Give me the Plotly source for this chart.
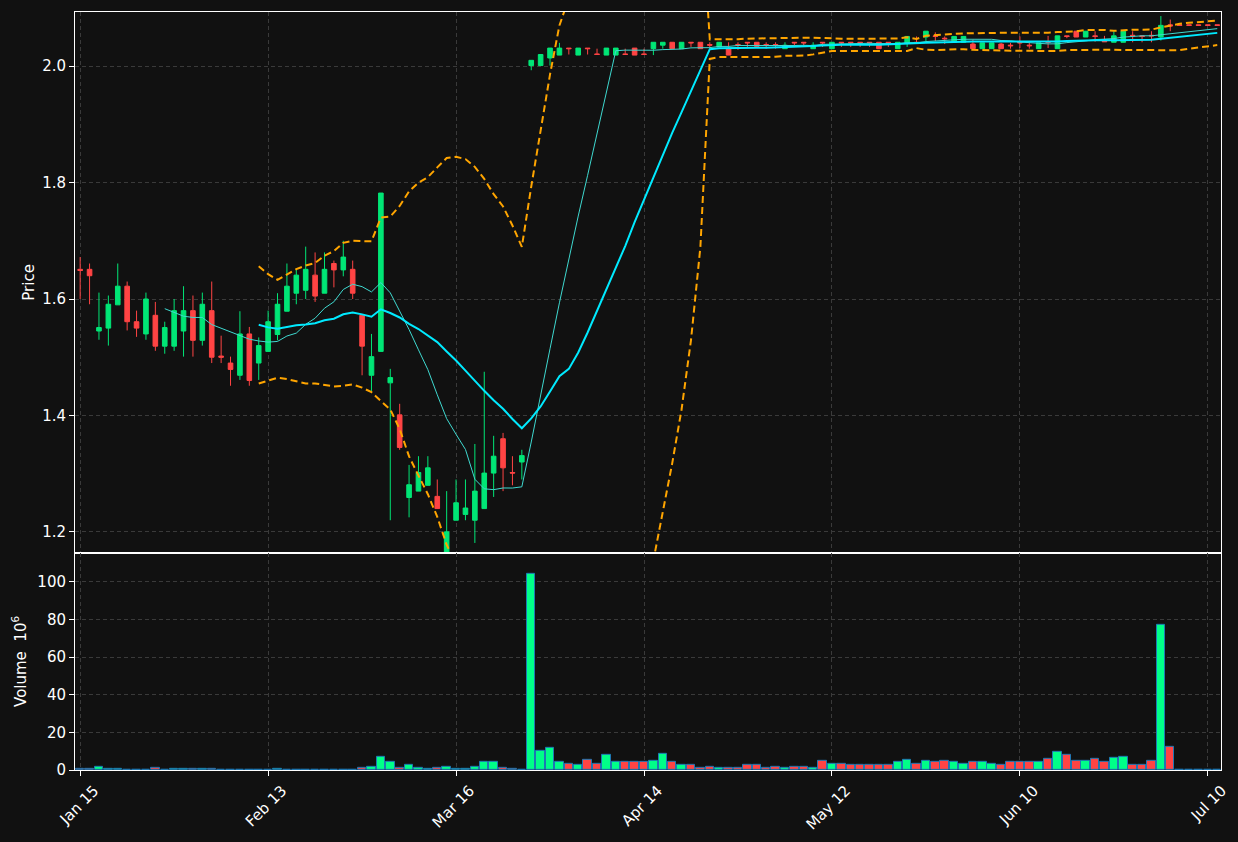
import pandas as pd
import plotly.graph_objects as go
from plotly.subplots import make_subplots

# ---------------- data ----------------
tick_index = [0, 20, 40, 60, 80, 100, 120]
tick_labels = ["Jan 15", "Feb 13", "Mar 16", "Apr 14", "May 12", "Jun 10", "Jul 10"]

open_ = [1.651, 1.651, 1.545, 1.550, 1.590, 1.622, 1.561, 1.540, 1.572, 1.519,
         1.519, 1.545, 1.580, 1.529, 1.580, 1.502, 1.490, 1.469, 1.540, 1.490,
         1.510, 1.539, 1.579, 1.610, 1.615, 1.641, 1.610, 1.661, 1.650, 1.651,
         1.572, 1.469, 1.510, 1.456, 1.401, 1.259, 1.270, 1.280, 1.261, 1.155,
         1.220, 1.230, 1.220, 1.240, 1.301, 1.360, 1.302, 1.320, 2.001, 2.001,
         2.014, 2.019, 2.031, 2.019, 2.031, 2.021, 2.019, 2.019, 2.021, 2.031,
         2.021, 2.030, 2.036, 2.041, 2.030, 2.041, 2.041, 2.037, 2.033, 2.030,
         2.037, 2.041, 2.041, 2.037, 2.037, 2.030, 2.041, 2.041, 2.030, 2.041,
         2.030, 2.041, 2.041, 2.041, 2.041, 2.041, 2.041, 2.030, 2.040, 2.041,
         2.050, 2.052, 2.048, 2.041, 2.041, 2.038, 2.030, 2.030, 2.038, 2.036,
         2.041, 2.036, 2.030, 2.042, 2.030, 2.052, 2.060, 2.050, 2.052, 2.043,
         2.041, 2.041, 2.053, 2.052, 2.053, 2.050, 2.071, 2.071, 2.071, 2.071,
         2.071, 2.071]
high = [1.672, 1.661, 1.611, 1.606, 1.661, 1.630, 1.580, 1.611, 1.595, 1.561,
        1.600, 1.622, 1.606, 1.611, 1.630, 1.537, 1.501, 1.579, 1.552, 1.534,
        1.580, 1.610, 1.661, 1.652, 1.690, 1.680, 1.680, 1.666, 1.700, 1.666,
        1.572, 1.540, 1.782, 1.480, 1.420, 1.315, 1.330, 1.330, 1.290, 1.270,
        1.290, 1.290, 1.351, 1.475, 1.365, 1.370, 1.330, 1.341, 2.010, 2.020,
        2.031, 2.040, 2.031, 2.031, 2.031, 2.030, 2.031, 2.031, 2.030, 2.031,
        2.030, 2.041, 2.041, 2.041, 2.041, 2.041, 2.041, 2.041, 2.041, 2.041,
        2.041, 2.041, 2.041, 2.041, 2.041, 2.041, 2.041, 2.041, 2.041, 2.041,
        2.041, 2.041, 2.041, 2.041, 2.041, 2.041, 2.041, 2.041, 2.051, 2.051,
        2.060, 2.058, 2.051, 2.051, 2.051, 2.046, 2.040, 2.040, 2.040, 2.040,
        2.051, 2.040, 2.040, 2.052, 2.052, 2.052, 2.060, 2.060, 2.060, 2.052,
        2.060, 2.060, 2.060, 2.052, 2.060, 2.086, 2.080, 2.071, 2.071, 2.071,
        2.071, 2.071]
low = [1.600, 1.591, 1.530, 1.520, 1.590, 1.546, 1.535, 1.530, 1.511, 1.506,
       1.511, 1.501, 1.501, 1.520, 1.490, 1.490, 1.451, 1.461, 1.451, 1.461,
       1.510, 1.529, 1.579, 1.591, 1.600, 1.595, 1.610, 1.620, 1.639, 1.600,
       1.469, 1.442, 1.510, 1.220, 1.341, 1.225, 1.270, 1.280, 1.240, 1.145,
       1.220, 1.220, 1.181, 1.240, 1.260, 1.270, 1.280, 1.290, 1.993, 2.001,
       2.001, 2.019, 2.020, 2.019, 2.020, 2.020, 2.019, 2.019, 2.020, 2.019,
       2.020, 2.019, 2.030, 2.030, 2.030, 2.033, 2.030, 2.030, 2.033, 2.019,
       2.028, 2.033, 2.034, 2.030, 2.030, 2.030, 2.033, 2.033, 2.030, 2.033,
       2.030, 2.033, 2.033, 2.033, 2.033, 2.030, 2.033, 2.030, 2.033, 2.040,
       2.042, 2.043, 2.038, 2.041, 2.041, 2.030, 2.030, 2.030, 2.030, 2.030,
       2.031, 2.030, 2.030, 2.031, 2.030, 2.048, 2.050, 2.050, 2.042, 2.042,
       2.041, 2.041, 2.041, 2.041, 2.041, 2.044, 2.060, 2.070, 2.070, 2.070,
       2.070, 2.070]
close = [1.649, 1.640, 1.551, 1.591, 1.622, 1.561, 1.550, 1.600, 1.519, 1.551,
         1.580, 1.580, 1.529, 1.591, 1.500, 1.500, 1.479, 1.540, 1.460, 1.520,
         1.561, 1.591, 1.622, 1.641, 1.651, 1.605, 1.651, 1.650, 1.672, 1.610,
         1.519, 1.501, 1.782, 1.465, 1.345, 1.281, 1.302, 1.310, 1.240, 1.200,
         1.250, 1.241, 1.270, 1.301, 1.330, 1.310, 1.301, 1.331, 2.010, 2.020,
         2.031, 2.031, 2.030, 2.031, 2.030, 2.020, 2.031, 2.031, 2.020, 2.019,
         2.020, 2.041, 2.041, 2.030, 2.041, 2.040, 2.030, 2.036, 2.041, 2.019,
         2.036, 2.040, 2.034, 2.036, 2.036, 2.036, 2.040, 2.040, 2.036, 2.040,
         2.041, 2.040, 2.040, 2.040, 2.040, 2.030, 2.040, 2.041, 2.051, 2.040,
         2.060, 2.051, 2.047, 2.051, 2.051, 2.030, 2.040, 2.040, 2.030, 2.035,
         2.040, 2.035, 2.040, 2.041, 2.052, 2.051, 2.050, 2.060, 2.051, 2.042,
         2.052, 2.060, 2.052, 2.051, 2.052, 2.070, 2.069, 2.070, 2.070, 2.070,
         2.070, 2.070]
volume_millions = [0.7, 0.7, 1.9, 0.7, 0.7, 0.3, 0.3, 0.3, 0.9, 0.3,
                   0.7, 0.7, 0.7, 0.7, 0.7, 0.2, 0.2, 0.2, 0.2, 0.2,
                   0.2, 0.8, 0.3, 0.3, 0.3, 0.1, 0.1, 0.1, 0.3, 0.3,
                   1.4, 1.9, 7.2, 4.6, 1.2, 2.5, 1.4, 0.7, 1.4, 1.9,
                   0.7, 0.7, 1.9, 4.6, 4.6, 1.4, 0.7, 0.3, 104.5, 10.4,
                   12.0, 4.6, 3.5, 3.0, 5.6, 3.5, 8.3, 4.1, 4.1, 4.1,
                   4.6, 5.1, 8.8, 4.1, 3.0, 3.0, 0.9, 1.9, 1.4, 1.4,
                   1.4, 2.5, 2.5, 1.4, 1.9, 1.4, 1.9, 1.9, 1.4, 5.1,
                   3.5, 3.5, 3.0, 3.0, 3.0, 2.5, 3.0, 4.1, 5.6, 3.5,
                   5.1, 4.6, 5.1, 4.6, 3.5, 4.6, 4.1, 3.5, 3.0, 4.1,
                   4.6, 4.1, 4.1, 6.2, 9.9, 7.8, 5.1, 5.1, 6.2, 4.6,
                   6.7, 7.2, 3.0, 3.0, 5.1, 77.1, 12.5, 0.0, 0.0, 0.0,
                   0.0, 0.0]

bar_index = list(range(len(close)))

# ---------------- derived indicators ----------------
cs = pd.Series(close)
ma_fast = cs.rolling(10).mean()
ma_slow = cs.rolling(20).mean()
bb_std = cs.rolling(20).std(ddof=0)
bb_upper = ma_slow + 2 * bb_std
bb_lower = ma_slow - 2 * bb_std

# ---------------- styling ----------------
BG = "#111111"
UP = "#00e676"
DOWN = "#ff4444"
VOL_UP = "#00ff88"
GRID = "#3a3a3a"
FG = "#ffffff"
FONT = "DejaVu Sans"
FS = 15

vol_colors = [VOL_UP if c >= o else DOWN for o, c in zip(open_, close)]

fig = make_subplots(rows=2, cols=1, shared_xaxes=True, vertical_spacing=0.0,
                    row_heights=[0.7135, 0.2865])

fig.add_trace(go.Candlestick(
    x=bar_index, open=open_, high=high, low=low, close=close,
    increasing=dict(line=dict(color=UP, width=1), fillcolor=UP),
    decreasing=dict(line=dict(color=DOWN, width=1), fillcolor=DOWN),
    whiskerwidth=0, showlegend=False, hoverinfo="skip"), row=1, col=1)

fig.add_trace(go.Scatter(x=bar_index, y=ma_fast, mode="lines",
                         line=dict(color="#3fd9d0", width=1),
                         showlegend=False, hoverinfo="skip"), row=1, col=1)
fig.add_trace(go.Scatter(x=bar_index, y=ma_slow, mode="lines",
                         line=dict(color="#00eaff", width=2),
                         showlegend=False, hoverinfo="skip"), row=1, col=1)
for band in (bb_upper, bb_lower):
    fig.add_trace(go.Scatter(x=bar_index, y=band, mode="lines",
                             line=dict(color="#ffa500", width=2, dash="7px,4px"),
                             showlegend=False, hoverinfo="skip"), row=1, col=1)

fig.add_trace(go.Bar(x=bar_index, y=volume_millions, width=0.9,
                     marker=dict(color=vol_colors, line=dict(color="#1f77b4", width=1)),
                     showlegend=False, hoverinfo="skip"), row=2, col=1)

axis_common = dict(showline=True, linecolor="#ffffff", linewidth=1, mirror=True,
                   showgrid=True, gridcolor=GRID, griddash="4px,3px", gridwidth=1,
                   zeroline=False, tickfont=dict(family=FONT, size=FS, color=FG),
                   ticks="outside", ticklen=5, tickcolor="#ffffff")

fig.update_xaxes(**axis_common, range=[-0.55, 121.4], tickmode="array",
                 tickvals=tick_index, ticktext=tick_labels,
                 rangeslider=dict(visible=False))
fig.update_xaxes(showticklabels=False, ticks="", row=1, col=1)
fig.update_xaxes(tickangle=-45, ticklabelshift=14, row=2, col=1)

fig.update_yaxes(**axis_common)
fig.update_yaxes(range=[1.164, 2.093], tickvals=[1.2, 1.4, 1.6, 1.8, 2.0],
                 tickformat=".1f",
                 title=dict(text="Price", font=dict(family=FONT, size=FS, color=FG), standoff=3),
                 row=1, col=1)
fig.update_yaxes(range=[0, 115.4], tickvals=[0, 20, 40, 60, 80, 100],
                 title=dict(text="Volume  10<sup>6</sup>", font=dict(family=FONT, size=FS, color=FG),
                            standoff=7),
                 row=2, col=1)

fig.update_layout(width=1238, height=842, paper_bgcolor=BG, plot_bgcolor=BG,
                  margin=dict(l=75, r=17, t=12, b=72, autoexpand=False),
                  font=dict(family=FONT, size=FS, color=FG),
                  bargap=0, showlegend=False)

fig.write_html("out.html", config={"displayModeBar": False},
               post_script="document.body.style.margin='0';"
                           "document.body.style.background='#111111';"
                           "document.body.style.overflow='hidden';")
